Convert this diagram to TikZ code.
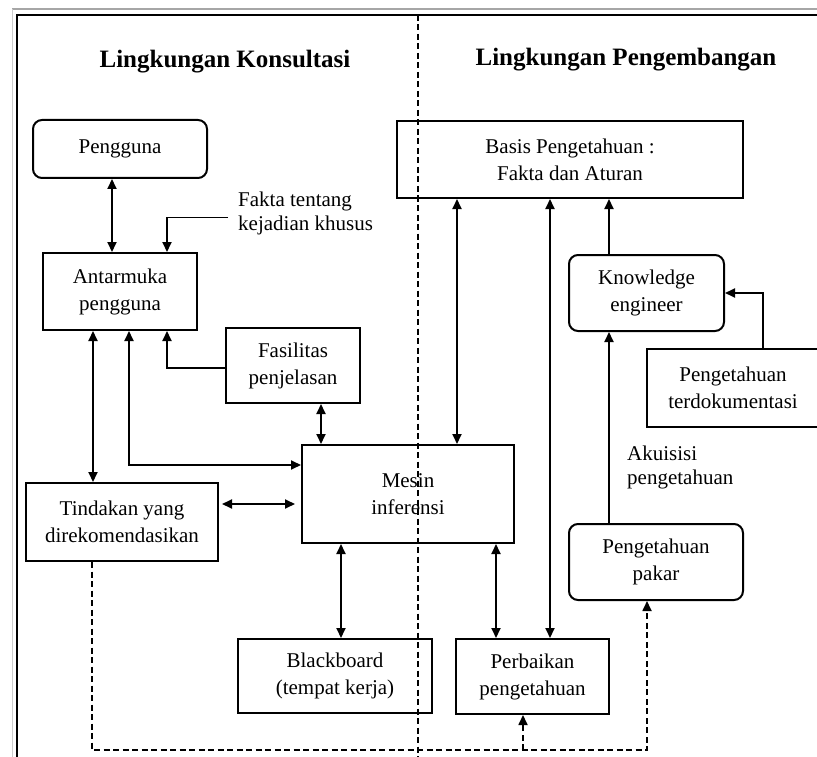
\documentclass[tikz,border=0pt]{standalone}
\usepackage{fontspec}
\setmainfont{Liberation Serif}
\usetikzlibrary{arrows.meta}
\tikzset{
  box/.style={draw, line width=2pt, inner sep=0pt, align=center,
    font=\fontsize{21}{27}\selectfont},
  rbox/.style={box, rounded corners=9pt},
  label/.style={inner sep=0pt, align=left, font=\fontsize{21}{24}\selectfont},
  title/.style={inner sep=0pt, font=\fontsize{25}{30}\selectfont\bfseries},
  link/.style={line width=1.9pt},
  tip/.tip={Triangle[length=10pt,width=9pt]},
  dbl/.style={link, tip-tip},
  one/.style={link, -tip},
  dsh/.style={line width=1.7pt, dash pattern=on 6pt off 3.5pt},
}
\begin{document}
\begin{tikzpicture}[x=1pt,y=-1pt]
\useasboundingbox (0,0) rectangle (817,757);
\fill[white] (0,0) rectangle (817,757);

% outer frame
\draw[gray!70, line width=1.2pt] (12,9) -- (817,9);
\draw[gray!40, line width=0.8pt] (12,9) -- (12,757);
\draw[line width=2pt] (17,757) -- (17,15) -- (817,15);

% divider between the two environments
\draw[dsh] (418,15) -- (418,757);

% section titles
\node[title] (tkons) at (225,62) {Lingkungan Konsultasi};
\node[title] (tpeng) at (626,60) {Lingkungan Pengembangan};

% consultation side
\node[rbox, minimum width=174pt, minimum height=58pt] (pengguna) at (120,149) {Pengguna};
\node[box, minimum width=154pt, minimum height=77pt] (antar) at (120,291.5) {Antarmuka\\pengguna};
\node[box, minimum width=134pt, minimum height=75pt] (fasil) at (293,365.5) {Fasilitas\\penjelasan};
\node[box, minimum width=212pt, minimum height=98pt] (mesin) at (408,494) {Mesin\\inferensi};
\node[box, minimum width=192pt, minimum height=78pt] (tind) at (122,522) {Tindakan yang\\direkomendasikan};
\node[box, minimum width=194pt, minimum height=74pt] (black) at (335,676) {Blackboard\\(tempat kerja)};
\node[label, anchor=west] (fakta) at (238,213.5) {Fakta tentang\\kejadian khusus};

% development side
\node[box, minimum width=346pt, minimum height=77pt] (basis) at (570,159.5) {Basis Pengetahuan :\\Fakta dan Aturan};
\node[rbox, minimum width=155pt, minimum height=76pt] (ke) at (646.5,293) {Knowledge\\engineer};
\node[box, minimum width=172pt, minimum height=78pt] (terdok) at (733,388) {Pengetahuan\\terdokumentasi};
\node[rbox, minimum width=174pt, minimum height=76pt] (pakar) at (656,562) {Pengetahuan\\pakar};
\node[box, minimum width=153pt, minimum height=75pt] (perb) at (532.5,676.5) {Perbaikan\\pengetahuan};
\node[label, anchor=west] (akuis) at (627,467) {Akuisisi\\pengetahuan};

% connectors, consultation side
\draw[dbl] (112,0 |- pengguna.south) -- (112,0 |- antar.north);
\draw[one] ([xshift=-10pt,yshift=-4pt]fakta.west) -| (167,0 |- antar.north);
\draw[dbl] (93,0 |- antar.south) -- (93,0 |- tind.north);
\draw[dbl] (mesin.west |- 0,465) -| (129,0 |- antar.south);
\draw[one] ([yshift=-2.5pt]fasil.west) -| (167,0 |- antar.south);
\draw[dbl] (321,0 |- fasil.south) -- (321,0 |- mesin.north);
\draw[dbl, shorten <=3pt, shorten >=6pt] (tind.east |- 0,504) -- (mesin.west |- 0,504);
\draw[dbl] (341,0 |- mesin.south) -- (341,0 |- black.north);

% connectors, development side
\draw[dbl] (496,0 |- mesin.south) -- (496,0 |- perb.north);
\draw[dbl] (457,0 |- basis.south) -- (457,0 |- mesin.north);
\draw[dbl] (550,0 |- perb.north) -- (550,0 |- basis.south);
\draw[one] (609,0 |- ke.north) -- (609,0 |- basis.south);
\draw[one] (609,0 |- pakar.north) -- (609,0 |- ke.south);
\draw[one] (763,0 |- terdok.north) |- (ke.east);

% dashed feedback loop
\coordinate (loopfork) at (523,750);
\draw[dsh, -tip] (92,0 |- tind.south) |- (647,750) -- (647,0 |- pakar.south);
\draw[dsh, -tip] (loopfork) -- (523,0 |- perb.south);
\end{tikzpicture}
\end{document}
